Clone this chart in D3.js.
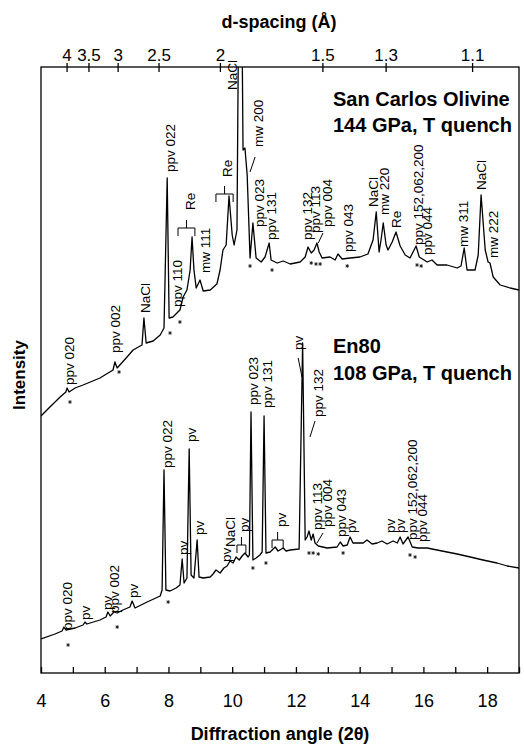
<!DOCTYPE html>
<html>
<head>
<meta charset="utf-8">
<script src="https://cdn.jsdelivr.net/npm/d3@7"></script>
<style>
  body { margin: 0; background: #fff; }
  text { font-family: "Liberation Sans", Arial, sans-serif; fill: #000; }
</style>
</head>
<body>
<script>
// San Carlos olivine, 144 GPa (2theta in degrees, intensity in arbitrary units)
const olivineTheta = [4.00, 4.28, 4.60, 4.78, 4.82, 4.88, 5.07, 5.32, 5.85, 6.26, 6.32, 6.39, 6.70, 6.89, 7.17, 7.23, 7.30, 7.52, 7.74, 7.86,
  7.96, 8.02, 8.14, 8.36, 8.46, 8.58, 8.68, 8.74, 8.80, 8.87, 8.99, 9.09, 9.31, 9.52, 9.62, 9.71, 9.81, 9.90, 10.00, 10.06,
  10.15, 10.25, 10.34, 10.40, 10.47, 10.53, 10.56, 10.65, 10.75, 10.91, 11.03, 11.16, 11.22, 11.41, 11.60, 11.82, 12.13, 12.29, 12.38, 12.48,
  12.57, 12.66, 12.73, 12.82, 13.07, 13.23, 13.32, 13.45, 13.70, 14.01, 14.26, 14.42, 14.52, 14.61, 14.67, 14.74, 14.83, 14.89, 15.02, 15.14,
  15.27, 15.43, 15.58, 15.77, 15.87, 16.12, 16.27, 16.43, 16.74, 17.06, 17.18, 17.28, 17.37, 17.62, 17.72, 17.81, 17.94, 18.03, 18.09, 18.19,
  18.41, 18.72, 19.00]
const olivineI = [257, 266, 276, 281, 285, 281, 285, 288, 295, 303, 311, 305, 316, 323, 328, 355, 330, 332, 338, 345,
  495, 355, 356, 363, 376, 383, 403, 436, 403, 385, 393, 382, 383, 389, 403, 423, 428, 477, 438, 428,
  443, 873, 523, 525, 498, 443, 415, 450, 415, 411, 416, 430, 413, 410, 412, 409, 411, 416, 426, 420,
  423, 430, 421, 415, 416, 413, 419, 414, 415, 416, 419, 433, 461, 421, 433, 450, 428, 423, 431, 441,
  427, 418, 415, 427, 416, 411, 413, 408, 408, 405, 407, 425, 403, 403, 418, 478, 423, 411, 410, 396,
  388, 385, 383]

// En80, 108 GPa
const en80Theta = [4.00, 4.44, 4.66, 4.72, 4.78, 5.07, 5.32, 5.38, 5.44, 5.85, 6.04, 6.10, 6.17, 6.29, 6.39, 6.57, 6.79, 6.86, 6.95, 7.33,
  7.74, 7.80, 7.86, 7.92, 8.05, 8.24, 8.36, 8.43, 8.49, 8.58, 8.65, 8.71, 8.80, 8.90, 8.96, 9.09, 9.31, 9.40, 9.49, 9.62,
  9.74, 9.84, 9.93, 10.03, 10.12, 10.22, 10.31, 10.40, 10.50, 10.54, 10.59, 10.65, 10.75, 10.87, 10.94, 11.00, 11.06, 11.19, 11.35, 11.44,
  11.60, 11.69, 11.82, 12.10, 12.21, 12.29, 12.35, 12.41, 12.48, 12.54, 12.60, 12.70, 12.98, 13.29, 13.39, 13.48, 13.61, 13.70, 13.79, 14.11,
  14.23, 14.39, 14.55, 14.70, 14.86, 15.05, 15.18, 15.27, 15.36, 15.52, 15.65, 15.83, 16.12, 16.43, 16.74, 17.06, 17.47, 17.87, 18.31, 18.63,
  19.00]
const en80I = [34, 39, 42, 46, 43, 45, 48, 51, 49, 53, 56, 61, 57, 61, 60, 63, 66, 72, 65, 71,
  77, 83, 203, 83, 82, 85, 88, 114, 90, 95, 224, 98, 95, 133, 96, 95, 96, 99, 103, 100,
  105, 107, 112, 110, 116, 113, 117, 120, 116, 118, 261, 113, 115, 118, 121, 257, 120, 121, 126, 122,
  125, 122, 123, 124, 330, 133, 136, 142, 133, 139, 130, 127, 125, 126, 131, 127, 128, 136, 130, 130,
  133, 129, 130, 132, 129, 132, 130, 136, 129, 136, 126, 125, 125, 123, 121, 119, 116, 113, 110, 107,
  105]

// peak labels: [text, 2theta, intensity at foot of label]
const olivineLabels = [
  ['ppv 020', 4.88, 288], ['ppv 002', 6.32, 320], ['NaCl', 7.26, 360], ['ppv 022', 8.05, 501],
  ['ppv 110', 8.27, 366], ['Re', 8.68, 463], ['mw 111', 9.15, 400], ['Re', 9.84, 496],
  ['NaCl', 10.00, 583], ['mw 200', 10.81, 526], ['ppv 023', 10.84, 446], ['ppv 131', 11.22, 433],
  ['ppv 132', 12.35, 433], ['ppv 113', 12.60, 440], ['ppv 004', 12.98, 446], ['ppv 043', 13.64, 421],
  ['NaCl', 14.42, 466], ['mw 220', 14.77, 458], ['Re', 15.14, 445], ['ppv 152,062,200', 15.83, 428],
  ['ppv 044', 16.12, 418], ['mw 311', 17.25, 426], ['NaCl', 17.81, 483], ['mw 222', 18.19, 415]
]
const en80Labels = [
  ['ppv 020', 4.82, 43], ['pv', 5.38, 53], ['pv', 6.07, 63], ['ppv 002', 6.29, 60], ['pv', 6.89, 75],
  ['ppv 022', 7.96, 205], ['pv', 8.46, 118], ['pv', 8.71, 231], ['pv', 8.96, 138], ['pv', 9.81, 111],
  ['NaCl', 9.93, 126], ['pv', 10.37, 141], ['ppv 023', 10.65, 268], ['ppv 131', 11.09, 265],
  ['pv', 11.53, 146], ['pv', 12.07, 323], ['ppv 132', 12.70, 256], ['ppv 113', 12.66, 143],
  ['ppv 004', 12.98, 146], ['ppv 043', 13.42, 136], ['pv', 13.73, 140], ['pv', 14.96, 140],
  ['pv', 15.27, 140], ['ppv 152,062,200', 15.65, 133], ['ppv 044', 15.96, 131]
]

// leader lines: [2theta1, I1, 2theta2, I2]
const leaders = [
  [10.72, 516, 10.56, 501], [12.85, 440, 12.70, 430],
  [12.07, 315, 12.19, 296], [12.60, 252, 12.44, 236], [12.85, 140, 12.66, 130]
]
// brackets grouping peaks: [2theta from, 2theta to, intensity]
const brackets = [[8.30, 8.83, 445], [9.49, 10.03, 479], [10.15, 10.43, 128], [11.25, 11.60, 133]]

// asterisks under ppv peaks: [2theta, intensity]
const stars = [
  [4.91, 271], [6.45, 301], [8.05, 340], [8.36, 351], [10.56, 407], [11.25, 403], [12.48, 410], [12.63, 409],
  [12.76, 409], [13.61, 407], [15.80, 408], [15.93, 407],
  [4.85, 28], [6.39, 46], [7.99, 71], [10.65, 105], [11.06, 110], [12.41, 120], [12.54, 120], [12.70, 119],
  [13.48, 120], [15.58, 118], [15.74, 116]
]

const angleTicks = d3.range(4, 20)
const dTicks = [4, 3.5, 3, 2.5, 2, 1.5, 1.3, 1.1]
const lambda = 0.3352 // wavelength in angstrom

const width = 524, height = 752
const pLeft = 41, pRight = 519, pTop = 67, pBottom = 673
const fontFamily = '"Liberation Sans", Arial, sans-serif'

const svg = d3.select('body').append('svg').attr('width', width).attr('height', height)

const x = d3.scaleLinear().domain([4, 19]).range([pLeft, pRight])
const y = d3.scaleLinear().domain([0, 606]).range([pBottom, pTop])

svg.append('defs').append('clipPath').attr('id', 'clip')
  .append('rect').attr('x', pLeft).attr('y', pTop).attr('width', pRight - pLeft).attr('height', pBottom - pTop)

// spectra
const line = d3.line().x(d => x(d[0])).y(d => y(d[1]))
const plot = svg.append('g').attr('clip-path', 'url(#clip)')
;[[olivineTheta, olivineI], [en80Theta, en80I]].forEach(([t, v]) => {
  plot.append('path')
    .datum(t.map((d, i) => [d, v[i]]))
    .attr('d', line)
    .attr('fill', 'none').attr('stroke', '#000').attr('stroke-width', 1.3).attr('stroke-linejoin', 'round')
})

// frame
svg.append('rect').attr('x', pLeft).attr('y', pTop).attr('width', pRight - pLeft).attr('height', pBottom - pTop)
  .attr('fill', 'none').attr('stroke', '#000').attr('stroke-width', 1.3)

// bottom axis, ticks point inward
const xAxis = d3.axisBottom(x).tickValues(angleTicks).tickSizeInner(-6).tickSizeOuter(0).tickPadding(21)
  .tickFormat(d => d % 2 === 0 ? d : '')
const gx = svg.append('g').attr('transform', `translate(0,${pBottom})`).call(xAxis)
gx.select('.domain').remove()
gx.selectAll('line').attr('stroke-width', 1.3)
gx.selectAll('text').attr('font-size', 18).style('font-family', fontFamily)

// top axis in d-spacing
const twoTheta = d => 2 * Math.asin(lambda / (2 * d)) * 180 / Math.PI
const dAxis = d3.axisTop(x).tickValues(dTicks.map(twoTheta)).tickFormat((d, i) => dTicks[i])
  .tickSizeInner(4).tickSizeOuter(0).tickPadding(2)
const gd = svg.append('g').attr('transform', `translate(0,${pTop})`).call(dAxis)
gd.select('.domain').remove()
gd.selectAll('line').attr('y1', 5).attr('stroke-width', 1.3)
gd.selectAll('text').attr('font-size', 17).style('font-family', fontFamily)

// axis titles
svg.append('text').attr('x', 279).attr('y', 28).attr('text-anchor', 'middle')
  .attr('font-size', 18).attr('font-weight', 'bold').text('d-spacing (Å)')
svg.append('text').attr('x', 280).attr('y', 740).attr('text-anchor', 'middle')
  .attr('font-size', 18).attr('font-weight', 'bold').text('Diffraction angle (2θ)')
svg.append('text').attr('transform', 'translate(25,375) rotate(-90)').attr('text-anchor', 'middle')
  .attr('font-size', 17).attr('font-weight', 'bold').text('Intensity')

// sample names
const names = [['San Carlos Olivine', 106], ['144 GPa, T quench', 132], ['En80', 353], ['108 GPa, T quench', 380]]
svg.selectAll('.name').data(names).enter().append('text')
  .attr('x', 333).attr('y', d => d[1])
  .attr('font-size', 20).attr('font-weight', 'bold').text(d => d[0])

// peak labels
svg.append('g').selectAll('text').data(olivineLabels.concat(en80Labels)).enter().append('text')
  .attr('transform', d => `translate(${x(d[1])},${y(d[2])}) rotate(-90)`)
  .attr('dy', '0.35em').attr('font-size', 13.5).text(d => d[0])

// leader lines
svg.append('g').selectAll('line').data(leaders).enter().append('line')
  .attr('x1', d => x(d[0])).attr('y1', d => y(d[1])).attr('x2', d => x(d[2])).attr('y2', d => y(d[3]))
  .attr('stroke', '#000').attr('stroke-width', 1)

// brackets
svg.append('g').selectAll('path').data(brackets).enter().append('path')
  .attr('d', d => {
    const x1 = x(d[0]), x2 = x(d[1]), yy = y(d[2]), xm = (x1 + x2) / 2
    return `M${x1},${yy + 8}V${yy}H${x2}V${yy + 8}M${xm},${yy}V${yy - 8}`
  })
  .attr('fill', 'none').attr('stroke', '#000').attr('stroke-width', 1)

// asterisks
const star = d3.symbol(d3.symbolAsterisk, 10)
svg.append('g').selectAll('path').data(stars).enter().append('path')
  .attr('transform', d => `translate(${x(d[0])},${y(d[1])})`)
  .attr('d', star).attr('fill', 'none').attr('stroke', '#000').attr('stroke-width', 0.8)
</script>
</body>
</html>
